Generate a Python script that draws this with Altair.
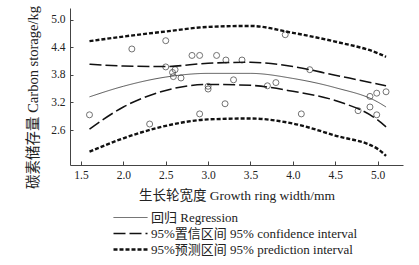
import altair as alt
import pandas as pd

# Observed points
pt_x = [1.6, 2.1, 2.31, 2.5, 2.5, 2.58, 2.61, 2.59, 2.68, 2.81, 2.9, 2.9, 3.0, 3.0,
        3.1, 3.21, 3.2, 3.3, 3.4, 3.7, 3.8, 3.91, 4.1, 4.2, 4.77, 4.91, 4.91, 4.99, 4.99, 5.1]
pt_y = [2.93, 4.36, 2.73, 4.54, 3.97, 3.85, 3.91, 3.76, 3.73, 4.22, 4.22, 2.95, 3.55, 3.49,
        4.22, 4.12, 3.17, 3.69, 4.12, 3.56, 3.63, 4.67, 2.95, 3.91, 3.02, 3.33, 3.10, 3.40, 2.93, 3.43]

# Curves
cx = [1.6, 2.0, 2.5, 3.0, 3.5, 4.0, 4.5, 5.0, 5.1]
reg = [3.32, 3.55, 3.75, 3.83, 3.83, 3.72, 3.52, 3.21, 3.10]
ci_up = [4.03, 3.99, 3.98, 4.05, 4.07, 3.98, 3.79, 3.60, 3.56]
ci_lo = [2.62, 3.10, 3.46, 3.59, 3.57, 3.44, 3.24, 2.82, 2.67]
pi_up = [4.53, 4.63, 4.74, 4.84, 4.86, 4.71, 4.52, 4.27, 4.19]
pi_lo = [2.13, 2.42, 2.69, 2.83, 2.85, 2.74, 2.48, 2.19, 2.04]

names = ["回归 Regression", "95%置信区间 95% confidence interval", "95%预测区间 95% prediction interval"]
x_ticks = [1.5, 2.0, 2.5, 3.0, 3.5, 4.0, 4.5, 5.0]
y_ticks = [2.6, 3.2, 3.8, 4.4, 5.0]

rows = []
for key, s, vals in [("reg", names[0], reg), ("ciu", names[1], ci_up), ("cil", names[1], ci_lo),
                     ("piu", names[2], pi_up), ("pil", names[2], pi_lo)]:
    for xv, yv in zip(cx, vals):
        rows.append({"x": xv, "y": yv, "series": s, "line": key})
curves = pd.DataFrame(rows)
pts = pd.DataFrame({"x": pt_x, "y": pt_y})

FONT = "Liberation Serif, Noto Sans CJK SC"
W, H = 333, 157
xs = alt.Scale(domain=[1.37, 5.3], nice=False, zero=False)
ys = alt.Scale(domain=[1.84, 5.25], nice=False, zero=False)

xaxis = alt.Axis(values=x_ticks, format=".1f", ticks=False, grid=False,
                 title="生长轮宽度 Growth ring width/mm", titleY=30, titleBaseline="middle",
                 titleFontSize=13.5, labelPadding=4)
yaxis = alt.Axis(values=y_ticks, format=".1f", ticks=False, grid=False,
                 title="碳素储存量 Carbon storage/kg", titleX=-37, titleY=89,
                 titleAngle=-90, titleAlign="center", titleBaseline="middle",
                 titleFontSize=14.5, labelPadding=5)

leg = alt.Legend(title=None, orient="none", legendX=54, legendY=203,
                 symbolType="M-3.4,0H3.4", symbolSize=100, symbolStrokeColor="#111",
                 labelFontSize=13, labelFont=FONT, labelColor="#222",
                 rowPadding=2, labelLimit=400, labelOffset=14)

lines = alt.Chart(curves).mark_line(interpolate="monotone", color="#111").encode(
    x=alt.X("x:Q", scale=xs, axis=xaxis),
    y=alt.Y("y:Q", scale=ys, axis=yaxis),
    detail="line:N",
    strokeDash=alt.StrokeDash("series:N", scale=alt.Scale(domain=names, range=[[1, 0], [12, 4], [4, 2]]),
                              legend=leg),
    strokeWidth=alt.StrokeWidth("series:N", scale=alt.Scale(domain=names, range=[0.7, 2.4, 1.2]),
                                legend=leg),
)

points = alt.Chart(pts).mark_point(shape="circle", filled=False, color="#222", size=36, strokeWidth=0.9).encode(
    x=alt.X("x:Q", scale=xs, axis=None), y=alt.Y("y:Q", scale=ys, axis=None)
)

# inward ticks via opposite-side axes shifted onto the plot edge
tick_x = alt.Chart(pts).mark_point(opacity=0).encode(
    x=alt.X("x:Q", scale=xs, axis=alt.Axis(orient="top", offset=-H, values=x_ticks, labels=False,
                                           domain=False, grid=False, tickSize=4, title=None)),
)
tick_y = alt.Chart(pts).mark_point(opacity=0).encode(
    y=alt.Y("y:Q", scale=ys, axis=alt.Axis(orient="right", offset=-W, values=y_ticks, labels=False,
                                           domain=False, grid=False, tickSize=3, title=None)),
)

chart = alt.layer(lines, points, tick_x, tick_y).resolve_axis(x="independent", y="independent").properties(
    width=W, height=H,
    autosize=alt.AutoSizeParams(type="none"),
    padding={"left": 70, "top": 8, "right": 16, "bottom": 100},
).configure_view(stroke=None).configure_axis(
    labelFont="Liberation Serif", titleFont=FONT, labelFontSize=11.5,
    labelColor="#222", titleColor="#222", domainColor="#444", tickColor="#444",
    titleFontWeight="normal",
)

chart.save("out.html", embed_options={"renderer": "svg", "actions": False})
